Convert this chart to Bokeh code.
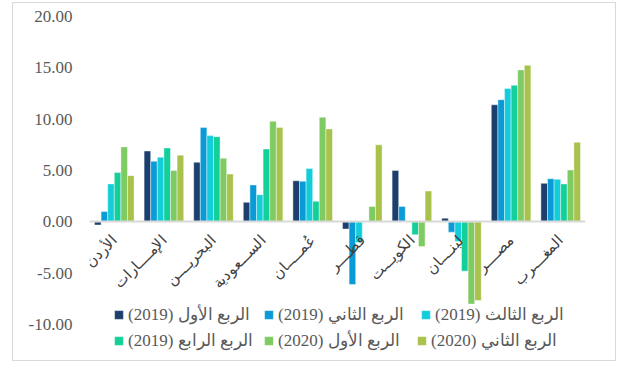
import math
from bokeh.plotting import figure
from bokeh.models import (ColumnDataSource, FactorRange, Range1d, FixedTicker,
                          NumeralTickFormatter, Legend, LegendItem)
from bokeh.transform import dodge
from bokeh.embed import file_html
from bokeh.resources import INLINE

countries = ["الأردن", "الإمــــارات", "البحريــــن", "الســـعودية", "عُمـــــان",
             "قطــــر", "الكويـــت", "لبنــــان", "مصــــر", "المغــــرب"]
q1_2019 = [-0.3, 6.9, 5.8, 1.9, 4.0, -0.7, 5.0, 0.35, 11.4, 3.75]
q2_2019 = [1.0, 5.9, 9.2, 3.6, 3.95, -6.1, 1.5, -1.0, 11.9, 4.2]
q3_2019 = [3.7, 6.3, 8.4, 2.65, 5.2, -2.0, 0.0, -1.9, 13.0, 4.15]
q4_2019 = [4.8, 7.2, 8.3, 7.1, 2.0, 0.0, -1.25, -4.8, 13.3, 3.7]
q1_2020 = [7.3, 5.0, 6.2, 9.8, 10.2, 1.5, -2.4, -8.0, 14.8, 5.05]
q2_2020 = [4.5, 6.5, 4.65, 9.2, 9.05, 7.5, 3.0, -7.65, 15.25, 7.75]

series_names = ["الربع الأول (2019)\u200F", "الربع الثاني (2019)\u200F", "الربع الثالث (2019)\u200F",
                "الربع الرابع (2019)\u200F", "الربع الأول (2020)\u200F", "الربع الثاني (2020)\u200F"]
y_ticks = [-10, -5, 0, 5, 10, 15, 20]

colors = ["#1c3f6e", "#0a9ad6", "#14cddb", "#13cf9a", "#7ecb63", "#a8c24b"]
keys = ["s1", "s2", "s3", "s4", "s5", "s6"]

source = ColumnDataSource(dict(country=countries, s1=q1_2019, s2=q2_2019, s3=q3_2019,
                               s4=q4_2019, s5=q1_2020, s6=q2_2020))

# canvas placed at (13, 3) inside a light grey border
p = figure(width=604, height=359, output_backend="svg", toolbar_location=None,
           x_range=FactorRange(*countries, range_padding=0),
           y_range=Range1d(-13.5, 20),
           min_border_left=76, min_border_right=32, min_border_top=13, min_border_bottom=2,
           styles={"margin-left": "12px", "margin-top": "2px",
                   "border": "1px solid #d9d9d9"})
p.outline_line_color = None
p.xgrid.visible = False
p.ygrid.visible = False
p.background_fill_color = "white"
p.border_fill_color = "white"

w = 0.133
renderers = []
for i, (k, c) in enumerate(zip(keys, colors)):
    off = (i - 2.5) * w
    r = p.vbar(x=dodge("country", off, range=p.x_range), top=k, bottom=0, width=w,
               source=source, fill_color=c, line_color="white", line_width=0.6, line_alpha=0.7)
    renderers.append(r)

xa = p.xaxis[0]
xa.fixed_location = 0
xa.axis_line_color = "#d9d9d9"
xa.axis_line_width = 2
xa.major_tick_line_color = None
xa.minor_tick_line_color = None
xa.major_label_orientation = math.pi / 4
xa.major_label_standoff = 10
xa.major_label_text_font = "Liberation Serif"
xa.major_label_text_font_size = "15px"
xa.major_label_text_color = "#404040"

ya = p.yaxis[0]
ya.ticker = FixedTicker(ticks=y_ticks)
ya.formatter = NumeralTickFormatter(format="0.00")
ya.axis_line_color = None
ya.major_tick_line_color = None
ya.minor_tick_line_color = None
ya.major_tick_out = 0
ya.major_label_standoff = 17
ya.major_label_text_font = "Liberation Serif"
ya.major_label_text_font_size = "17px"
ya.major_label_text_color = "#595959"

positions = [(24, 35), (174, 35), (331, 35), (24, 9), (174, 9), (327, 9)]
for r, lab, loc in zip(renderers, series_names, positions):
    leg = Legend(items=[LegendItem(label=lab, renderers=[r])], location=loc,
                 border_line_color=None, background_fill_alpha=0, padding=0, margin=0,
                 spacing=0, glyph_width=11, glyph_height=11, label_height=11,
                 label_standoff=4, label_text_font="Liberation Serif",
                 label_text_font_size="17px", label_text_color="#595959")
    p.add_layout(leg)

open("out.html", "w").write(file_html(p, INLINE))
